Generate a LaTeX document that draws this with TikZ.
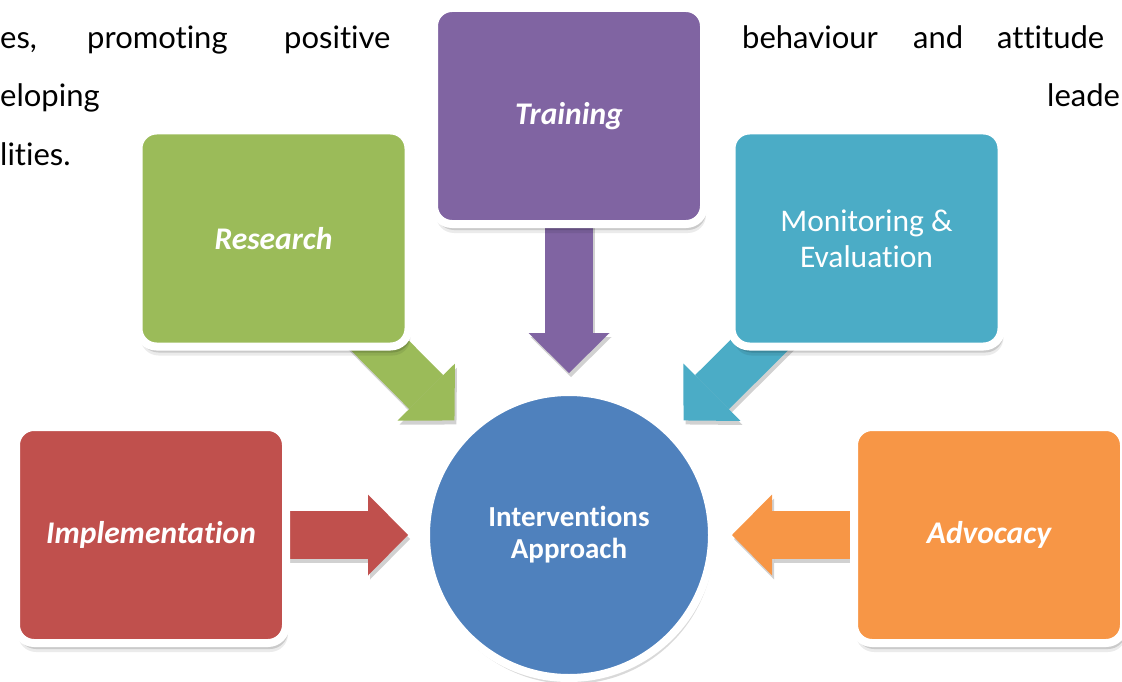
\documentclass[tikz,border=0pt]{standalone}
\usepackage{fontspec}
\setmainfont[Ligatures=NoCommon]{Carlito}
\newfontfamily\latofont[Ligatures=NoCommon]{Lato}
\usetikzlibrary{arrows.meta,shadows,calc}
\definecolor{cPurple}{HTML}{8064A2}
\definecolor{cGreen}{HTML}{9BBB59}
\definecolor{cTeal}{HTML}{4BACC6}
\definecolor{cRed}{HTML}{C0504D}
\definecolor{cOrange}{HTML}{F79646}
\definecolor{cBlue}{HTML}{4F81BD}
\pgfdeclarelayer{bg}
\pgfsetlayers{bg,main}
\begin{document}
\begin{tikzpicture}[x=1pt,y=-1pt,
  box/.style={draw=white, line width=8pt, rounded corners=18pt,
    minimum width=270pt, minimum height=216pt, inner sep=0pt,
    text=white, align=center,
    drop shadow={shadow xshift=2pt, shadow yshift=-9pt, opacity=0.08, fill=black},
    drop shadow={shadow xshift=2pt, shadow yshift=-6pt, opacity=0.14, fill=black}},
  boxbi/.style={box, font=\fontsize{31.5}{36}\selectfont\bfseries\itshape},
  boxrg/.style={box, font=\fontsize{31.5}{36}\selectfont},
  hub/.style={circle, draw=white, line width=8pt, minimum size=286pt, inner sep=0pt,
    fill=cBlue, text=white, align=center,
    font=\fontsize{29}{32}\selectfont\bfseries,
    drop shadow={shadow xshift=2pt, shadow yshift=-6pt, opacity=0.15, fill=black}},
  bigarrow/.style={line width=48pt,
    -{Triangle[width=81pt,length=40pt,line width=0pt]}},
  word/.style={anchor=base west, inner sep=0pt, font=\latofont\fontsize{31}{37}\selectfont, text=black}
]
\useasboundingbox (0,0) rectangle (1122,682);
\clip (0,0) rectangle (1122,682);

% background paragraph text
\node[word] (w1) at (0,49) {es,};
\node[word] (w2) at (87,49) {promoting};
\node[word] (w3) at (284,49) {positive};
\node[word] (w4) at (742,49) {behaviour};
\node[word] (w5) at (913,49) {and};
\node[word] (w6) at (997,49) {attitude};
\node[word] (w7) at (0,107) {eloping};
\node[word] (w8) at (1047,107) {leade};
\node[word] (w9) at (0,165) {lities.};

% boxes
\node[boxbi, fill=cPurple] (train) at (569,116) {Training};
\node[boxbi, fill=cGreen] (res) at (273.5,238.5) {Research};
\node[boxrg, fill=cTeal] (me) at (866.5,238.5) {Monitoring \&\\Evaluation};
\node[boxbi, fill=cRed] (impl) at (151,535) {Implementation};
\node[boxbi, fill=cOrange] (adv) at (989,535) {Advocacy};
\node[hub] (ctr) at (569,535) {Interventions\\Approach};

% arrow tips
\coordinate (tTrain) at ([yshift=15pt]ctr.north);
\coordinate (tRes) at ($(ctr.135)+(-10.6,-10.6)$);
\coordinate (tMe) at ($(ctr.45)+(10.6,-10.6)$);
\coordinate (tImpl) at ([xshift=-14pt]ctr.west);
\coordinate (tAdv) at ([xshift=16pt]ctr.east);

\begin{pgfonlayer}{bg}
  \begin{scope}[transform canvas={shift={(2pt,-4pt)}}, opacity=0.18]
    \draw[bigarrow, draw=black] (train.center) -- (tTrain);
    \draw[bigarrow, draw=black] (res.center) -- (tRes);
    \draw[bigarrow, draw=black] (me.center) -- (tMe);
    \draw[bigarrow, draw=black] (impl.center) -- (tImpl);
    \draw[bigarrow, draw=black] (adv.center) -- (tAdv);
  \end{scope}
  \draw[bigarrow, draw=cPurple] (train.center) -- (tTrain);
  \draw[bigarrow, draw=cGreen] (res.center) -- (tRes);
  \draw[bigarrow, draw=cTeal] (me.center) -- (tMe);
  \draw[bigarrow, draw=cRed] (impl.center) -- (tImpl);
  \draw[bigarrow, draw=cOrange] (adv.center) -- (tAdv);
\end{pgfonlayer}
\end{tikzpicture}
\end{document}
